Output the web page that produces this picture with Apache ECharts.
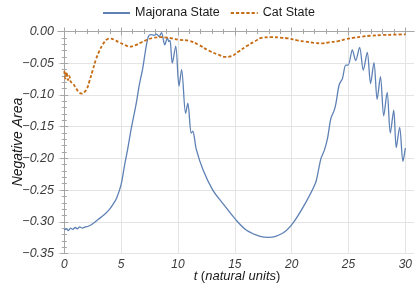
<!DOCTYPE html>
<html><head><meta charset="utf-8">
<script src="https://cdn.jsdelivr.net/npm/echarts@6/dist/echarts.min.js"></script>
<style>html,body{margin:0;padding:0;background:#fff}#c{width:415px;height:292px}</style>
</head><body><div id="c"></div>
<script>
const seriesNames = ['Majorana State', 'Cat State'];

const tMajorana = [0, 0.2, 0.35, 0.55, 0.75, 0.95, 1.15, 1.35, 1.6, 1.85, 2.1, 2.5, 3.0, 3.5, 3.9, 4.3, 4.6, 5.0, 5.3, 5.56, 5.9, 6.3, 6.6, 6.9, 7.18, 7.4, 7.6, 7.9, 8.1, 8.2, 8.34, 8.55, 8.84, 9.07, 9.2, 9.3, 9.5, 9.8, 10.09, 10.32, 10.67, 10.87, 11.16, 11.3, 11.45, 11.6, 12.2, 13.06, 13.94, 15.1, 16.0, 17.15, 18.0, 19.2, 20.1, 21.2, 22.1, 22.3, 22.58, 22.88, 23.16, 23.45, 23.75, 23.9, 24.18, 24.47, 24.76, 24.97, 25.34, 25.63, 25.98, 26.3, 26.65, 26.94, 27.24, 27.52, 27.81, 28.1, 28.4, 28.68, 28.98, 29.2, 29.5, 29.79, 30.0];
const majorana = [-0.313, -0.311, -0.314, -0.310, -0.312, -0.309, -0.311, -0.308, -0.310, -0.308, -0.307, -0.303, -0.296, -0.289, -0.282, -0.272, -0.263, -0.241, -0.211, -0.187, -0.152, -0.116, -0.084, -0.058, -0.026, -0.008, -0.005, -0.006, -0.004, -0.005, -0.008, -0.002, -0.021, -0.010, -0.016, -0.014, -0.050, -0.023, -0.086, -0.060, -0.129, -0.113, -0.160, -0.157, -0.168, -0.185, -0.218, -0.250, -0.271, -0.297, -0.313, -0.3225, -0.3246, -0.318, -0.3025, -0.271, -0.239, -0.224, -0.200, -0.187, -0.168, -0.137, -0.124, -0.113, -0.084, -0.074, -0.053, -0.053, -0.029, -0.046, -0.025, -0.061, -0.033, -0.082, -0.049, -0.107, -0.071, -0.133, -0.096, -0.160, -0.124, -0.183, -0.151, -0.205, -0.184];

const tCat = [0, 0.09, 0.2, 0.32, 0.44, 0.56, 0.76, 1.05, 1.3, 1.55, 1.8, 2.0, 2.2, 2.5, 2.8, 3.1, 3.4, 3.7, 4.0, 4.4, 4.8, 5.3, 5.75, 6.2, 6.8, 7.3, 7.8, 8.5, 9.0, 9.5, 10.1, 10.96, 11.83, 12.7, 13.57, 14.16, 14.7, 15.3, 16.04, 16.77, 17.35, 18.2, 19.0, 19.7, 20.5, 21.2, 22.0, 22.6, 23.3, 24.1, 24.8, 25.5, 26.2, 27.0, 28.0, 29.0, 30.0];
const cat = [-0.062, -0.074, -0.064, -0.0765, -0.070, -0.079, -0.082, -0.090, -0.096, -0.098, -0.095, -0.090, -0.079, -0.061, -0.043, -0.030, -0.020, -0.013, -0.011, -0.013, -0.017, -0.021, -0.024, -0.022, -0.017, -0.013, -0.010, -0.009, -0.0095, -0.011, -0.013, -0.0145, -0.021, -0.030, -0.0366, -0.040, -0.039, -0.032, -0.023, -0.0155, -0.010, -0.009, -0.0095, -0.011, -0.014, -0.016, -0.018, -0.0186, -0.017, -0.015, -0.012, -0.0098, -0.008, -0.0066, -0.0055, -0.005, -0.0044];

const xTicks = [0, 5, 10, 15, 20, 25, 30];
const yTicks = [0, -0.05, -0.10, -0.15, -0.20, -0.25, -0.30, -0.35];
const xTitle = ['t', ' (', 'natural units', ')'];
const yTitle = 'Negative Area';

const F = '"Liberation Sans", Arial, Helvetica, sans-serif';
const frameColor = '#a6a6a6';
const gridColor = '#e4e4e4';
const labelColor = '#3a3a3a';
const blue = '#5E81B5';
const orange = '#C66B12';

const xMin = Math.min(...xTicks), xMax = Math.max(...xTicks);
const yMin = Math.min(...yTicks), yMax = Math.max(...yTicks);
const xStep = xTicks[1] - xTicks[0];
const yStep = Math.abs(yTicks[1] - yTicks[0]);

const pxPerT = 11.47;
const dataLeft = 64.3, frameLeft = 58, frameRight = 414;
const padL = (dataLeft - frameLeft) / pxPerT;
const dataWidth = (xMax - xMin) * pxPerT;
const padR = (frameRight - dataLeft - dataWidth) / pxPerT;

const tickCommon = { inside: true, length: 4, lineStyle: { color: frameColor, width: 1 } };
const minorCommon = { show: true, splitNumber: 5, length: 2.5, lineStyle: { color: frameColor, width: 1 } };

const chart = echarts.init(document.getElementById('c'), null, { renderer: 'canvas' });
chart.setOption({
  animation: false,
  backgroundColor: '#ffffff',
  grid: [
    { left: dataLeft, top: 31.5, width: dataWidth, height: 222, containLabel: false },
    { left: frameLeft, top: 31.5, width: frameRight - frameLeft, height: 222, containLabel: false }
  ],
  legend: {
    data: seriesNames,
    left: 97, top: 1,
    itemWidth: 27, itemHeight: 0.4, itemGap: 10,
    textStyle: { fontFamily: F, fontSize: 12.5, color: '#1a1a1a', lineHeight: 14 }
  },
  xAxis: [
    { gridIndex: 0, type: 'value', min: xMin, max: xMax, interval: xStep, position: 'bottom',
      axisLine: { show: false }, axisTick: tickCommon, minorTick: minorCommon,
      axisLabel: { fontFamily: F, fontStyle: 'italic', fontSize: 12, color: labelColor, margin: 5 },
      splitLine: { show: true, lineStyle: { color: gridColor, width: 1 } } },
    { gridIndex: 0, type: 'value', min: xMin, max: xMax, interval: xStep, position: 'top',
      axisLine: { show: false }, axisTick: tickCommon, minorTick: minorCommon,
      axisLabel: { show: false }, splitLine: { show: false } },
    { gridIndex: 1, type: 'value', min: xMin - padL, max: xMax + padR, position: 'bottom',
      axisLine: { show: true, lineStyle: { color: frameColor, width: 1 } },
      axisTick: { show: false }, axisLabel: { show: false }, splitLine: { show: false } },
    { gridIndex: 1, type: 'value', min: xMin - padL, max: xMax + padR, position: 'top',
      axisLine: { show: true, lineStyle: { color: frameColor, width: 1 } },
      axisTick: { show: false }, axisLabel: { show: false }, splitLine: { show: false } }
  ],
  yAxis: [
    { gridIndex: 0, type: 'value', min: yMin, max: yMax, show: false },
    { gridIndex: 1, type: 'value', min: yMin, max: yMax, interval: yStep, position: 'left',
      axisLine: { show: true, lineStyle: { color: frameColor, width: 1 } },
      axisTick: tickCommon, minorTick: minorCommon,
      axisLabel: { fontFamily: F, fontStyle: 'italic', fontSize: 12.5, color: labelColor, margin: 4,
        formatter: v => (Math.abs(v) < 1e-9 ? '0.00' : (v < 0 ? '\u2212' : '') + Math.abs(v).toFixed(2)) },
      splitLine: { show: true, lineStyle: { color: gridColor, width: 1 } } },
    { gridIndex: 1, type: 'value', min: yMin, max: yMax, interval: yStep, position: 'right',
      axisLine: { show: true, lineStyle: { color: frameColor, width: 1 } },
      axisTick: tickCommon, minorTick: minorCommon,
      axisLabel: { show: false }, splitLine: { show: false } }
  ],
  series: [
    { name: seriesNames[0], type: 'line', xAxisIndex: 0, yAxisIndex: 0,
      data: tMajorana.map((t, i) => [t, majorana[i]]),
      symbol: 'none', showSymbol: false, smooth: 0.3, z: 3,
      lineStyle: { color: blue, width: 1.3 }, itemStyle: { color: blue } },
    { name: seriesNames[1], type: 'line', xAxisIndex: 0, yAxisIndex: 0,
      data: tCat.map((t, i) => [t, cat[i]]),
      symbol: 'none', showSymbol: false, smooth: 0.4, z: 4,
      lineStyle: { color: orange, width: 1.8, type: [3.2, 2] }, itemStyle: { color: orange } }
  ],
  graphic: [
    { type: 'text', x: 237, y: 276, z: 10,
      style: { text: '{i|' + xTitle[0] + '}' + xTitle[1] + '{i|' + xTitle[2] + '}' + xTitle[3],
        align: 'center', verticalAlign: 'middle', fontFamily: F, fontSize: 13, fill: '#1a1a1a',
        rich: { i: { fontFamily: F, fontSize: 13, fontStyle: 'italic', fill: '#1a1a1a' } } } },
    { type: 'text', x: 18, y: 142, rotation: Math.PI / 2, z: 10,
      style: { text: yTitle, align: 'center', verticalAlign: 'middle', fontFamily: F, fontSize: 14,
        fontStyle: 'italic', fill: '#1a1a1a' } }
  ]
});
</script>
</body></html>
